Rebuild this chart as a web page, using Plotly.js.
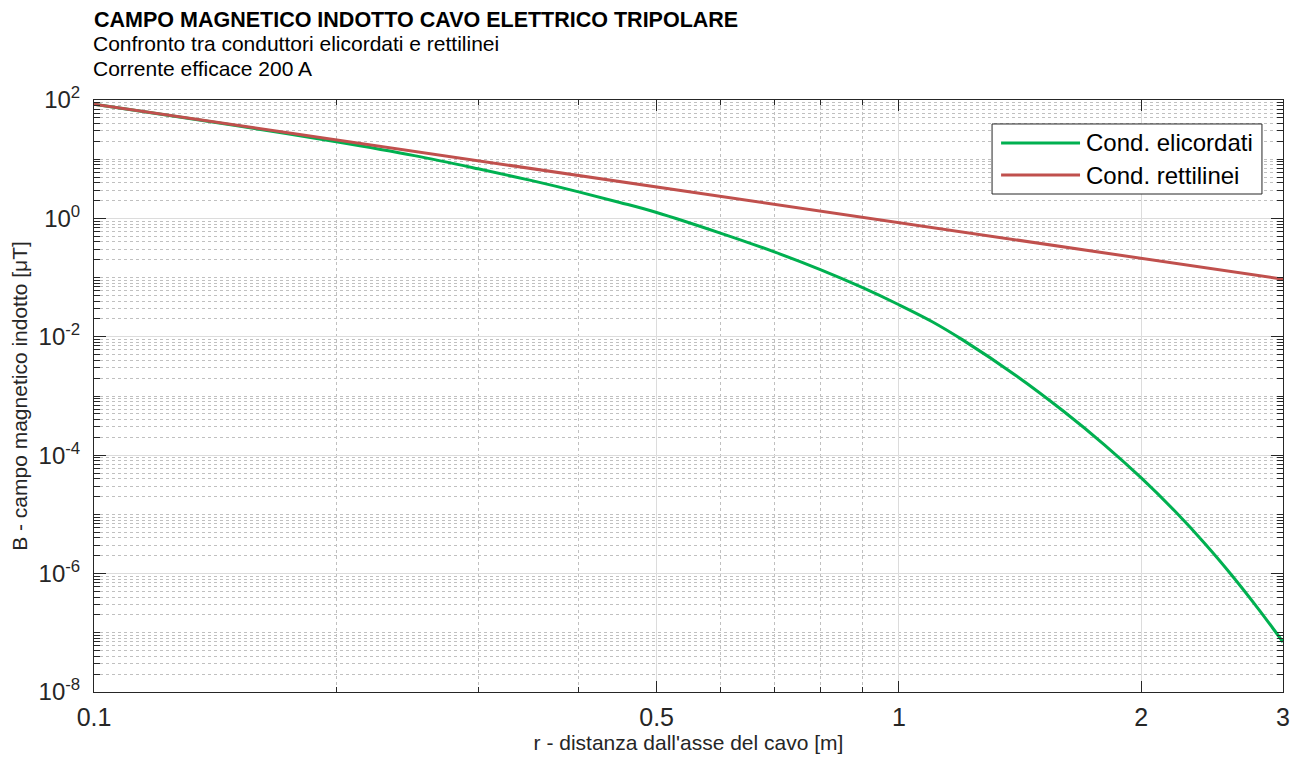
<!DOCTYPE html>
<html>
<head>
<meta charset="utf-8">
<script src="https://cdn.plot.ly/plotly-3.0.1.min.js"></script>
<style>html,body{margin:0;padding:0;background:#fff;}#chart{width:1301px;height:758px;}</style>
</head>
<body>
<div id="chart"></div>
<script>
// ---- data ----
var rHelix = [0.1, 0.12, 0.15, 0.2, 0.25, 0.3, 0.35, 0.4, 0.45, 0.5, 0.6, 0.7, 0.8, 0.9, 1.0, 1.1, 1.2, 1.4, 1.6, 1.8, 2.0, 2.2, 2.4, 2.6, 2.8, 3.0];
var bHelix = [85, 58.7, 37.0, 19.7, 11.5, 6.89, 4.34, 2.81, 1.86, 1.26, 0.565, 0.272, 0.135, 0.0682, 0.0348, 0.0180, 0.00887, 0.00218, 5.58e-4, 1.50e-4, 4.14e-5, 1.15e-5, 3.20e-6, 8.87e-7, 2.47e-7, 6.97e-8];
var rStraight = [0.1, 0.2, 0.3, 0.5, 1, 2, 3];
var bStraight = [85, 21.2, 9.45, 3.4, 0.85, 0.212, 0.094];

var seriesNames = ['Cond. elicordati', 'Cond. rettilinei'];
var seriesColors = ['#00b050', '#c0504d'];

var xTickVals = [0.1, 0.5, 1, 2, 3];
var xTickText = ['0.1', '0.5', '1', '2', '3'];
var xMinorVals = [0.2, 0.3, 0.4, 0.6, 0.7, 0.8, 0.9];
var yExponents = [-8, -6, -4, -2, 0, 2];

var titleText = 'CAMPO MAGNETICO INDOTTO CAVO ELETTRICO TRIPOLARE';
var subtitle1 = 'Confronto tra conduttori elicordati e rettilinei';
var subtitle2 = 'Corrente efficace 200 A';
var xTitle = "r - distanza dall'asse del cavo [m]";
var yTitle = 'B - campo magnetico indotto [μT]';

// ---- derived axis config ----
var yTickVals = yExponents.map(function (e) { return Math.pow(10, e); });
var yTickText = yExponents.map(function (e) { return '10<sup>' + e + '</sup>'; });
var yMinorVals = [];
for (var e = -8; e < 2; e++) {
  for (var d = 1; d <= 9; d++) {
    if (d === 1 && yExponents.indexOf(e) >= 0) continue;
    yMinorVals.push(d * Math.pow(10, e));
  }
}

var FONT = '"Liberation Sans", Arial, Helvetica, sans-serif';

var traces = [
  { x: rHelix, y: bHelix, type: 'scatter', mode: 'lines', name: seriesNames[0],
    line: { color: seriesColors[0], width: 3, shape: 'spline', smoothing: 1 }, showlegend: false },
  { x: rStraight, y: bStraight, type: 'scatter', mode: 'lines', name: seriesNames[1],
    line: { color: seriesColors[1], width: 3 }, showlegend: false }
];

// custom legend (paper coords)
var lgX0 = 0.7553, lgX1 = 0.9823, lgY0 = 0.8412, lgY1 = 0.9595;
var rowsY = [0.9274, 0.8733];
var shapes = [
  { type: 'rect', xref: 'paper', yref: 'paper', x0: lgX0, x1: lgX1, y0: lgY0, y1: lgY1,
    line: { color: '#262626', width: 1 }, fillcolor: '#ffffff', layer: 'above' }
];
var annotations = [
  { text: subtitle1, xref: 'paper', yref: 'paper', x: 0, y: 1 + (100 - 43) / 592, xanchor: 'left', yanchor: 'middle',
    xshift: -3, showarrow: false, font: { family: FONT, size: 21, color: '#000' } },
  { text: subtitle2, xref: 'paper', yref: 'paper', x: 0, y: 1 + (100 - 68) / 592, xanchor: 'left', yanchor: 'middle',
    xshift: -3, showarrow: false, font: { family: FONT, size: 21, color: '#000' } }
];
for (var i = 0; i < 2; i++) {
  shapes.push({ type: 'line', xref: 'paper', yref: 'paper', x0: 0.7629, x1: 0.8293, y0: rowsY[i], y1: rowsY[i],
    line: { color: seriesColors[i], width: 3 }, layer: 'above' });
  annotations.push({ text: seriesNames[i], xref: 'paper', yref: 'paper', x: 0.8352, y: rowsY[i],
    xanchor: 'left', yanchor: 'middle', xshift: -3, showarrow: false, font: { family: FONT, size: 24, color: '#000' } });
}

var layout = {
  width: 1301, height: 758,
  paper_bgcolor: '#ffffff', plot_bgcolor: '#ffffff',
  margin: { l: 94, r: 18, t: 100, b: 66 },
  font: { family: FONT, color: '#262626' },
  showlegend: false,
  title: { text: '<b>' + titleText + '</b>', xref: 'paper', x: 0, xanchor: 'left',
    yref: 'container', y: 1 - 19 / 758, yanchor: 'middle', font: { family: FONT, size: 21.5, color: '#000' } },
  xaxis: {
    type: 'log', range: [Math.log10(0.1), Math.log10(3)],
    tickmode: 'array', tickvals: xTickVals, ticktext: xTickText,
    ticks: 'inside', ticklen: 11, tickwidth: 1, tickcolor: '#262626', ticklabelstandoff: 3,
    showline: true, linecolor: '#262626', linewidth: 1, mirror: 'allticks',
    showgrid: true, gridcolor: '#dcdcdc', gridwidth: 1,
    tickfont: { family: FONT, size: 25, color: '#262626' },
    minor: { tickmode: 'array', tickvals: xMinorVals, ticks: 'inside', ticklen: 5, tickcolor: '#262626',
      showgrid: true, gridcolor: '#c0c0c0', griddash: 'dot', gridwidth: 1 },
    title: { text: xTitle, font: { family: FONT, size: 21, color: '#262626' }, standoff: 5 },
    zeroline: false
  },
  yaxis: {
    type: 'log', range: [-8, 2],
    tickmode: 'array', tickvals: yTickVals, ticktext: yTickText,
    ticks: 'inside', ticklen: 12, tickwidth: 1, tickcolor: '#262626', ticklabelstandoff: 8,
    showline: true, linecolor: '#262626', linewidth: 1, mirror: 'allticks',
    showgrid: true, gridcolor: '#dcdcdc', gridwidth: 1,
    tickfont: { family: FONT, size: 24, color: '#262626' },
    minor: { tickmode: 'array', tickvals: yMinorVals, ticks: 'inside', ticklen: 6, tickcolor: '#262626',
      showgrid: true, gridcolor: '#c0c0c0', griddash: 'dot', gridwidth: 1 },
    title: { text: yTitle, font: { family: FONT, size: 21, color: '#262626' }, standoff: 5 },
    zeroline: false
  },
  shapes: shapes,
  annotations: annotations
};

Plotly.newPlot('chart', traces, layout, { displayModeBar: false, staticPlot: true });
</script>
</body>
</html>
